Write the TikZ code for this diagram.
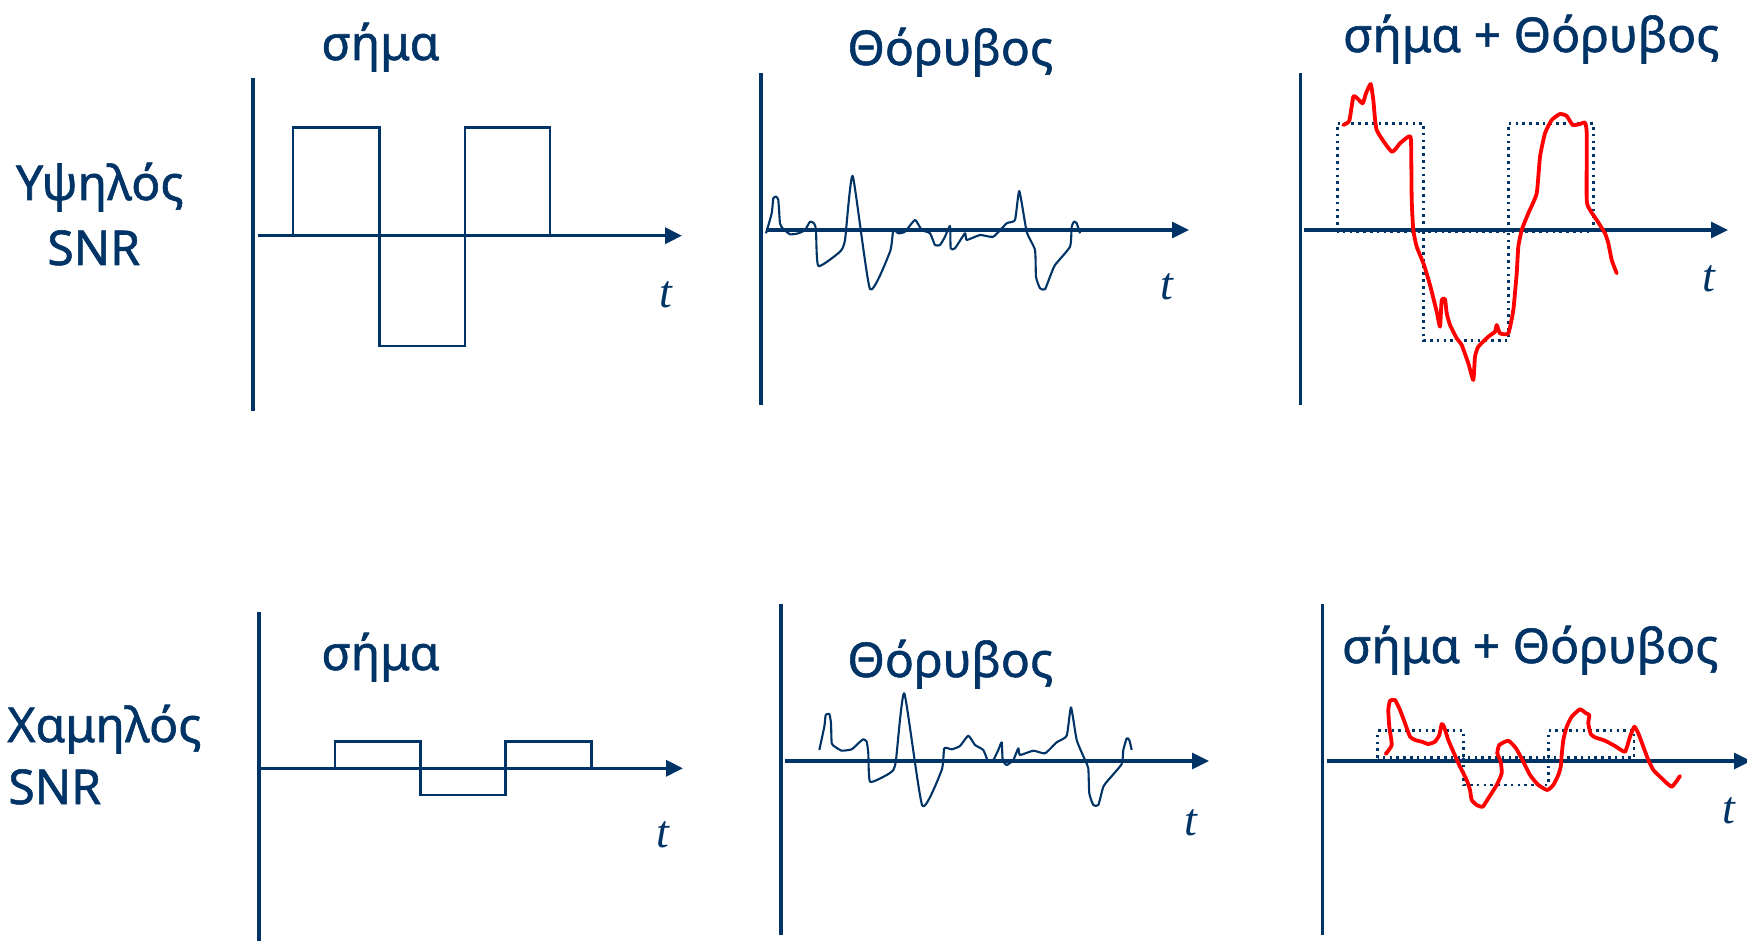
\documentclass[tikz,border=0pt]{standalone}
\usepackage{fontspec}
\newfontfamily\lab[FakeBold=1.2]{Noto Sans}
\newfontfamily\tfont{Liberation Serif}
\usetikzlibrary{arrows.meta}
\definecolor{navy}{RGB}{0,51,102}
\definecolor{sigred}{RGB}{255,0,0}
\begin{document}
\begin{tikzpicture}[x=0.5pt,y=-0.5pt,
  axis/.style={navy, line width=1.6pt},
  taxis/.style={axis, -{Triangle[length=8.5pt,width=8pt]}},
  wave/.style={navy, line width=1.3pt},
  dotwave/.style={navy, line width=1.3pt, dash pattern=on 1.3pt off 2.1pt},
  noise/.style={navy, line width=1.05pt, line join=round},
  redc/.style={sigred, line width=1.9pt, line join=round, line cap=round},
  lbl/.style={inner sep=0pt, anchor=base west, text=navy, font=\lab\fontsize{24}{28}\selectfont},
  tl/.style={inner sep=0pt, anchor=base, text=navy, font=\tfont\itshape\fontsize{23}{26}\selectfont},
]
\useasboundingbox (0,0) rectangle (1747,941);
\clip (0,0) rectangle (1747,941);

% ---------- row labels ----------
\node[lbl] (hi1) at (15.6,200) {Υψηλός};
\node[lbl] (hi2) at (47,265) {SNR};
\node[lbl] (lo1) at (7,742) {Χαμηλός};
\node[lbl] (lo2) at (8,804) {SNR};

% ---------- panel A: top-left (signal) ----------
\coordinate (Ay0) at (253,78);  \coordinate (Ay1) at (253,411);
\coordinate (Ax0) at (257.6,235.7); \coordinate (Ax1) at (682,235.7);
\draw[axis] (Ay0) -- (Ay1);
\draw[taxis] (Ax0) -- (Ax1);
\draw[wave] (293,235.7) rectangle (379.5,127.3);
\draw[wave] (379.5,235.7) rectangle (465,346);
\draw[wave] (465,235.7) rectangle (550,127.3);
\node[lbl] (Alab) at (321,60) {σήμα};
\node[tl] (At) at (665.5,308) {t};

% ---------- panel B: top-middle (noise) ----------
\coordinate (By0) at (761,73);  \coordinate (By1) at (761,405);
\coordinate (Bx0) at (766,230); \coordinate (Bx1) at (1189,230);
\draw[axis] (By0) -- (By1);
\draw[taxis] (Bx0) -- (Bx1);
\draw[noise] plot[smooth, tension=0.3] coordinates {
(766,233.3) (771.7,213.3) (773.3,198.3) (776,196.7) (778.3,200) (780,223.3)
(782.7,228.3) (790,234.3) (798.3,233.3) (805,230) (810,221.7) (814,223.3)
(816,230) (818.3,266) (840,251.7) (845,240) (852.7,176) (870,289)
(890,251.7) (893.3,230) (898.3,233.3) (905,231.7) (915,220) (921.7,230)
(930,233.3) (935,245) (940,245) (945,236.7) (950,226) (950.7,248.3)
(955,248.3) (965,233.3) (966.7,240) (980,235) (993.3,236.7) (1006.7,223.3)
(1015,220) (1019.3,191) (1026.7,231.7) (1035,250) (1036,276.7) (1040,288.3)
(1045,289.3) (1050,276.7) (1055,265) (1070,246.7) (1071.7,226.7) (1074,221.7)
(1076.7,223.3) (1080,233.3)};
\node[lbl] (Blab) at (847,65) {Θόρυβος};
\node[tl] (Bt) at (1167,300) {t};

% ---------- panel C: top-right (signal + noise) ----------
\coordinate (Cy0) at (1300.7,73);  \coordinate (Cy1) at (1300.7,405);
\coordinate (Cx0) at (1304,230); \coordinate (Cx1) at (1728,230);
\draw[axis] (Cy0) -- (Cy1);
\draw[taxis] (Cx0) -- (Cx1);
\draw[dotwave] (1337.3,231.7) rectangle (1423.3,123.3);
\draw[dotwave] (1423.3,231.7) rectangle (1508.3,340.7);
\draw[dotwave] (1508.3,231.7) rectangle (1593.3,123.3);
\draw[redc] plot[smooth, tension=0.3] coordinates {
(1343.3,125) (1349.3,120.7) (1353.3,96.7) (1357.3,98.3) (1362.7,103.3) (1366,93.3)
(1370.7,84) (1373.3,100) (1376.7,130) (1391.7,151.7) (1400,143.3) (1408.3,136.7)
(1411,140) (1411.7,200) (1413.3,230) (1416.7,246.7) (1424,265) (1430,285)
(1436.7,311.7) (1440,326.7) (1441.7,300) (1445,299.3) (1446.7,313.3) (1450,325)
(1456.7,338.3) (1461.7,345) (1468.3,363.3) (1473.3,380) (1475,356.7) (1478.3,346.7)
(1488.3,336.7) (1495,331.7) (1496.7,325) (1500,333.3) (1508.3,333.3) (1513.3,310)
(1516.7,273.3) (1518.3,246.7) (1521.7,230) (1528.3,213.3) (1536.7,193.3) (1540,156.7)
(1545,133.3) (1551.7,120) (1560,114) (1566.7,116) (1572.7,125) (1580,124)
(1585,122.7) (1586.7,133.3) (1586.7,200) (1590,210) (1596.7,220) (1605,233.3)
(1608.3,243.3) (1611.7,260) (1616.7,273.3)};
\node[lbl] (Clab) at (1342.7,52) {σήμα + Θόρυβος};
\node[tl] (Ct) at (1709,292) {t};

% ---------- panel D: bottom-left (signal) ----------
\coordinate (Dy0) at (259,612);  \coordinate (Dy1) at (259,941);
\coordinate (Dx0) at (260.7,768.3); \coordinate (Dx1) at (683,768.3);
\draw[axis] (Dy0) -- (Dy1);
\draw[taxis] (Dx0) -- (Dx1);
\draw[wave] (334.8,768.3) rectangle (420.5,741.7);
\draw[wave] (420.5,768.3) rectangle (505.3,795);
\draw[wave] (505.3,768.3) rectangle (591.5,741.7);
\node[lbl] (Dlab) at (321,670) {σήμα};
\node[tl] (Dt) at (663,847) {t};

% ---------- panel E: bottom-middle (noise) ----------
\coordinate (Ey0) at (781,604);  \coordinate (Ey1) at (781,935);
\coordinate (Ex0) at (785,761); \coordinate (Ex1) at (1209,761);
\draw[axis] (Ey0) -- (Ey1);
\draw[taxis] (Ex0) -- (Ex1);
\draw[noise] plot[smooth, tension=0.3] coordinates {
(819.3,750) (824.3,726.7) (825.7,715) (829.3,714) (831,723.3) (831.7,743.3)
(835,746.7) (841.7,750.7) (851.7,749.3) (858.3,743.3) (863.3,739.3) (866.7,741.7)
(868.3,753.3) (870,781.7) (886.7,775) (893.3,770) (896,760) (904.3,693.3)
(922.3,805.7) (941.7,770) (944.3,748.3) (951.7,749.3) (960,746) (968.3,735.7)
(975,745) (983.3,750) (988.3,761.7) (993.3,760) (998.3,750) (1001.7,742.3)
(1002.7,760) (1006.7,765) (1013.3,760) (1018.3,748.3) (1020,755) (1033.3,750.7)
(1045,753.3) (1056.7,742.3) (1066.7,735.7) (1071,707.3) (1076.7,740) (1085,760)
(1088.3,768.3) (1089.3,793.3) (1093.3,805) (1098.3,805) (1103.3,786.7) (1108.3,780)
(1121.7,764) (1123.3,750) (1126.7,738.3) (1129.3,740) (1131.7,750)};
\node[lbl] (Elab) at (847,677) {Θόρυβος};
\node[tl] (Et) at (1191,835) {t};

% ---------- panel F: bottom-right (signal + noise) ----------
\coordinate (Fy0) at (1322.7,604);  \coordinate (Fy1) at (1322.7,935);
\coordinate (Fx0) at (1326.7,761); \coordinate (Fx1) at (1751,761);
\draw[axis] (Fy0) -- (Fy1);
\draw[taxis] (Fx0) -- (Fx1);
\draw[dotwave] (1377.7,757.7) rectangle (1463.3,730.7);
\draw[dotwave] (1463.3,757.7) rectangle (1548.3,785);
\draw[dotwave] (1548.3,757.7) rectangle (1634,730.7);
\draw[redc] plot[smooth, tension=0.3] coordinates {
(1385.7,754) (1391.7,745) (1389.3,726.7) (1388.3,710) (1390,700.7) (1395,700)
(1400,710) (1405,723.3) (1410,736.7) (1415,740) (1421.7,741.7) (1428.3,744)
(1435,741.7) (1439.3,735) (1441.7,724) (1444,726.7) (1448.3,740) (1454,753.3)
(1460,766.7) (1466.7,780) (1470,790) (1471.7,800) (1476.7,805) (1482.7,806.7)
(1488.3,798.3) (1496.7,785) (1501.7,773.3) (1500.7,761.7) (1497.3,753.3) (1499.3,745)
(1508.3,740.7) (1516,748.3) (1523.3,761.7) (1530,775) (1538.3,785) (1547.3,790)
(1553.3,785) (1558.3,775) (1560.7,766.7) (1561.7,755) (1563.3,740) (1566.7,726.7)
(1571.7,716.7) (1580,709.3) (1586,713.3) (1589.3,715) (1588.3,723.3) (1590.7,734)
(1595,737.3) (1605,740.7) (1615,746) (1625,751.7) (1630,736.7) (1634.3,726.7)
(1638.3,733.3) (1643.3,746.7) (1648.3,760) (1653.3,770) (1661.7,778.3) (1671.7,786.7)
(1680,776)};
\node[lbl] (Flab) at (1341.7,663) {σήμα + Θόρυβος};
\node[tl] (Ft) at (1729,823) {t};
\end{tikzpicture}
\end{document}
